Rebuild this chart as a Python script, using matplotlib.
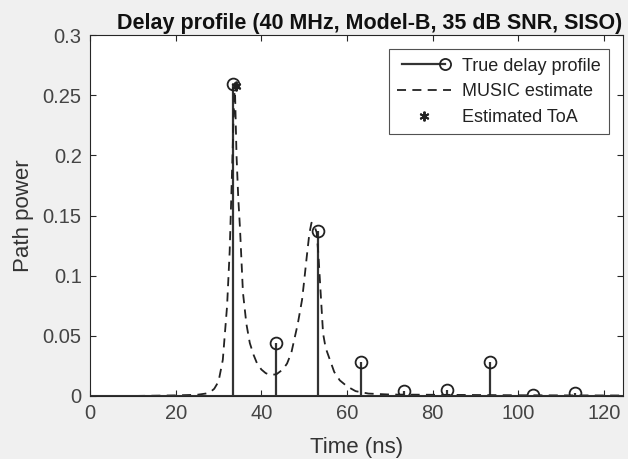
import matplotlib
matplotlib.use("Agg")
import matplotlib.pyplot as plt
from matplotlib.lines import Line2D
from matplotlib.legend_handler import HandlerLine2D

plt.rcParams['font.family'] = ['Liberation Sans', 'DejaVu Sans']

# True delay profile (stems)
true_delay_ns = [33.3, 43.3, 53.3, 63.3, 73.3, 83.3, 93.3, 103.3, 113.3]
true_power = [0.259, 0.044, 0.137, 0.028, 0.0045, 0.005, 0.0285, 0.0008, 0.0028]

# MUSIC estimate
music_time_ns = [0, 10, 20, 25, 27, 28, 29, 30, 31, 32, 32.6, 33.1, 33.5, 33.8,
                 34.2, 34.6, 35.0, 35.7, 36.5, 37.3, 38.2, 39.0, 40.0, 41.0, 42.0,
                 43.5, 45.0, 46.0, 47.0, 47.5, 48.5, 49.5, 50.0, 50.6, 51.2, 51.7,
                 52.3, 52.9, 53.3, 53.7, 54.4, 55.0, 56.0, 57.0, 58.3, 60.0, 62.0,
                 65.0, 70.0, 80.0, 90.0, 100.0, 110.0, 124.4]
music_power = [0.0, 0.0, 0.0005, 0.001, 0.002, 0.003, 0.006, 0.012, 0.03, 0.075,
               0.12, 0.18, 0.23, 0.26, 0.2, 0.165, 0.14, 0.086, 0.06, 0.044, 0.034,
               0.027, 0.022, 0.019, 0.0175, 0.018, 0.022, 0.027, 0.036, 0.044, 0.06,
               0.08, 0.096, 0.116, 0.135, 0.144, 0.142, 0.136, 0.118, 0.094, 0.052,
               0.04, 0.03, 0.02, 0.013, 0.008, 0.004, 0.002, 0.0012, 0.001, 0.0008,
               0.0006, 0.0005, 0.0004]

# Estimated ToA
toa_ns = [34.0]
toa_power = [0.258]

xlim = (0, 124.4)
ylim = (0, 0.3)
xticks = [0, 20, 40, 60, 80, 100, 120]
yticks = [0, 0.05, 0.1, 0.15, 0.2, 0.25, 0.3]
ytick_labels = ['0', '0.05', '0.1', '0.15', '0.2', '0.25', '0.3']


class StemLegendHandler(HandlerLine2D):
    """Line with the marker only at its right end (MATLAB stem legend)."""
    def create_artists(self, legend, orig_handle, xdescent, ydescent, width,
                       height, fontsize, trans):
        arts = super().create_artists(legend, orig_handle, xdescent, ydescent,
                                      width, height, fontsize, trans)
        if len(arts) == 1:
            line = arts[0]
            line.set_markevery([len(line.get_xdata()) - 1])
        else:
            marker_line = arts[-1]
            xs = marker_line.get_xdata()
            ys = marker_line.get_ydata()
            marker_line.set_data([xs[-1]], [ys[-1]])
        return arts


ink = '#262626'
fig = plt.figure(figsize=(6.28, 4.59), dpi=100, facecolor='#f0f0f0')
ax = fig.add_axes([0.1433, 0.1373, 0.8487, 0.7864])
ax.set_facecolor('white')

ml, sl, bl = ax.stem(true_delay_ns, true_power, basefmt=' ')
plt.setp(sl, color='#333333', linewidth=1.6)
plt.setp(ml, marker='o', markersize=8.5, markerfacecolor='none',
         markeredgecolor='#222222', markeredgewidth=1.3)

ax.plot(music_time_ns, music_power, color='#222222', linestyle=(0, (5, 3.5)), linewidth=1.3)
ax.plot(toa_ns, toa_power, linestyle='none', marker=(6, 2, 0), markersize=7,
        color='#222222', markeredgewidth=1.4)
ax.axhline(0, color='#333333', linewidth=1.5)

ax.set_xlim(*xlim)
ax.set_ylim(*ylim)
ax.set_xticks(xticks)
ax.set_yticks(yticks)
ax.set_yticklabels(ytick_labels)
ax.tick_params(direction='in', top=True, right=True, labelsize=14.5, colors=ink,
               labelcolor='#444444', length=4, width=0.8, pad=6)
for s in ax.spines.values():
    s.set_color(ink)
    s.set_linewidth(0.8)

ax.set_xlabel('Time (ns)', fontsize=16, color='#333333', labelpad=9.5)
ax.set_ylabel('Path power', fontsize=16, color='#333333', labelpad=6)
ax.set_title('Delay profile (40 MHz, Model-B, 35 dB SNR, SISO)', fontsize=15.5,
             fontweight='bold', color='#111111', pad=4, x=0.524)

h1 = Line2D([0], [0], color='#333333', linewidth=1.6, marker='o', markersize=8,
            markerfacecolor='none', markeredgecolor='#222222', markeredgewidth=1.3)
h2 = Line2D([0], [0], color='#222222', linestyle=(0, (5, 3.5)), linewidth=1.3)
h3 = Line2D([0], [0], linestyle='none', marker=(6, 2, 0), markersize=7,
            color='#222222', markeredgewidth=1.4)
leg = ax.legend([h1, h2, h3], ['True delay profile', 'MUSIC estimate', 'Estimated ToA'],
                loc='upper right', bbox_to_anchor=(1.0, 1.0), fontsize=13,
                frameon=True, fancybox=False, edgecolor='#262626',
                handlelength=3.0, handletextpad=0.6, borderpad=0.45, labelspacing=0.48,
                borderaxespad=0.8,
                handler_map={h1: StemLegendHandler(numpoints=2)})
leg.get_frame().set_linewidth(0.8)
for t in leg.get_texts():
    t.set_color('#222222')

fig.savefig('out.png', dpi=100, facecolor=fig.get_facecolor())
